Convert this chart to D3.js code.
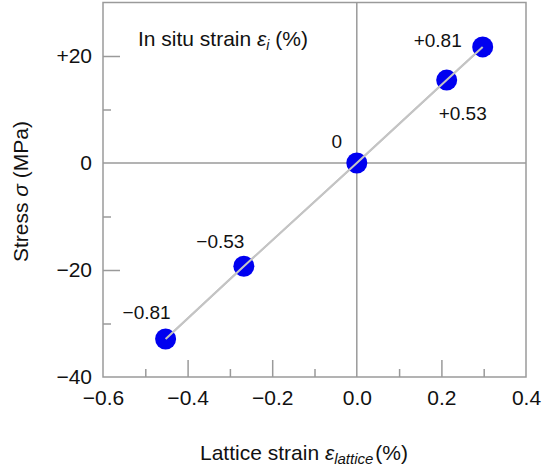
<!DOCTYPE html>
<html>
<head>
<meta charset="utf-8">
<script src="https://cdn.jsdelivr.net/npm/d3@7"></script>
<style>
  html, body { margin: 0; padding: 0; background: #fff; }
  svg { display: block; font-family: "Liberation Sans", Arial, sans-serif; }
</style>
</head>
<body>
<svg id="chart" width="544" height="471"></svg>
<script>
// In situ strain labels for each measured point
const insituStrain = ["\u22120.81", "\u22120.53", "0", "+0.53", "+0.81"];
// Lattice strain (%) and stress (MPa) for each point
const latticeStrain = [-0.452, -0.267, 0.0, 0.2125, 0.2976];
const stress = [-32.9, -19.3, 0.0, 15.5, 21.7];

// Axis ticks
const xMajorTicks = [-0.6, -0.4, -0.2, 0.0, 0.2, 0.4];
const xTickLabels = ["\u22120.6", "\u22120.4", "\u22120.2", "0.0", "0.2", "0.4"];
const xMinorTicks = [-0.5, -0.3, -0.1, 0.1, 0.3];
const yMajorTicks = [-40, -20, 0, 20];
const yTickLabels = ["\u221240", "\u221220", "0", "+20"];
const yMinorTicks = [-30, -10, 10];

// Label placement around each marker (pixels)
const labelOffsets = [
  { dx: -19, dy: -20 },
  { dx: -23.5, dy: -18.5 },
  { dx: -20, dy: -15 },
  { dx: 16, dy: 40 },
  { dx: -45, dy: 0 }
];

const svg = d3.select("#chart");
const plot = { left: 103, right: 526, top: 2.5, bottom: 377 };
const axisColor = "#9a9a9a";

const x = d3.scaleLinear().domain([-0.6, 0.4]).range([plot.left, plot.right]);
const y = d3.scaleLinear().domain([-40, 30]).range([plot.bottom, plot.top]);

// Plot frame
svg.append("rect")
  .attr("x", plot.left).attr("y", plot.top)
  .attr("width", plot.right - plot.left).attr("height", plot.bottom - plot.top)
  .attr("fill", "none").attr("stroke", axisColor).attr("stroke-width", 1.5);

// Zero reference lines
svg.append("line")
  .attr("x1", x(0)).attr("x2", x(0)).attr("y1", plot.top).attr("y2", plot.bottom)
  .attr("stroke", axisColor).attr("stroke-width", 1.5);
svg.append("line")
  .attr("x1", plot.left).attr("x2", plot.right).attr("y1", y(0)).attr("y2", y(0))
  .attr("stroke", axisColor).attr("stroke-width", 1.5);

function styleAxis(g) {
  g.select(".domain").remove();
  g.selectAll(".tick line").attr("stroke", axisColor).attr("stroke-width", 1.5);
  g.selectAll(".tick text").attr("fill", "#111").attr("font-size", 21);
}

// X axis: major ticks with labels, minor ticks without
svg.append("g")
  .attr("transform", `translate(0,${plot.bottom})`)
  .call(d3.axisBottom(x).tickValues(xMajorTicks)
    .tickFormat((d, i) => xTickLabels[i]).tickSize(-17).tickPadding(13))
  .call(styleAxis)
  .call(g => g.selectAll(".tick").filter(d => d === 0 || d === -0.6 || d === 0.4).select("line").remove());
svg.append("g")
  .attr("transform", `translate(0,${plot.bottom})`)
  .call(d3.axisBottom(x).tickValues(xMinorTicks).tickFormat("").tickSize(-8))
  .call(styleAxis);

// Y axis
svg.append("g")
  .attr("transform", `translate(${plot.left},0)`)
  .call(d3.axisLeft(y).tickValues(yMajorTicks)
    .tickFormat((d, i) => yTickLabels[i]).tickSize(-17).tickPadding(11))
  .call(styleAxis)
  .call(g => g.selectAll(".tick").filter(d => d === 0 || d === -40).select("line").remove());
svg.append("g")
  .attr("transform", `translate(${plot.left},0)`)
  .call(d3.axisLeft(y).tickValues(yMinorTicks).tickFormat("").tickSize(-8))
  .call(styleAxis);

const points = latticeStrain.map((v, i) => ({ x: v, y: stress[i], label: insituStrain[i], off: labelOffsets[i] }));

// Connecting line
svg.append("path")
  .datum(points)
  .attr("d", d3.line().x(d => x(d.x)).y(d => y(d.y)))
  .attr("fill", "none").attr("stroke", "#c4c4c4").attr("stroke-width", 2);

// Markers
svg.append("g").selectAll("circle")
  .data(points).join("circle")
  .attr("cx", d => x(d.x)).attr("cy", d => y(d.y)).attr("r", 10.5)
  .attr("fill", "#0000f0");

// Re-draw the line over the markers (it shows through them)
svg.append("path")
  .datum(points)
  .attr("d", d3.line().x(d => x(d.x)).y(d => y(d.y)))
  .attr("fill", "none").attr("stroke", "#c4c4c4").attr("stroke-width", 2);

// Point labels
svg.append("g").selectAll("text")
  .data(points).join("text")
  .attr("x", d => x(d.x) + d.off.dx).attr("y", d => y(d.y) + d.off.dy)
  .attr("text-anchor", "middle").attr("font-size", 19).attr("fill", "#111")
  .text(d => d.label);

// Legend title inside the plot
const t = svg.append("text").attr("x", 138).attr("y", 46).attr("font-size", 21).attr("fill", "#111");
t.append("tspan").text("In situ strain ");
t.append("tspan").attr("font-style", "italic").text("\u03b5");
t.append("tspan").attr("font-style", "italic").attr("font-size", 14).attr("dy", 4).text("i");
t.append("tspan").attr("dy", -4).text(" (%)");

// X axis title
const xt = svg.append("text").attr("x", 200).attr("y", 460).attr("font-size", 21).attr("fill", "#111");
xt.append("tspan").text("Lattice strain ");
xt.append("tspan").attr("font-style", "italic").text("\u03b5");
xt.append("tspan").attr("font-style", "italic").attr("font-size", 15).attr("dy", 4).text("lattice");
xt.append("tspan").attr("dy", -4).attr("dx", 2).text("(%)");

// Y axis title
const yt = svg.append("text")
  .attr("transform", "translate(28,191.5) rotate(-90)")
  .attr("text-anchor", "middle").attr("font-size", 21).attr("fill", "#111");
yt.append("tspan").text("Stress ");
yt.append("tspan").attr("font-style", "italic").text("\u03c3");
yt.append("tspan").text(" (MPa)");
</script>
</body>
</html>
